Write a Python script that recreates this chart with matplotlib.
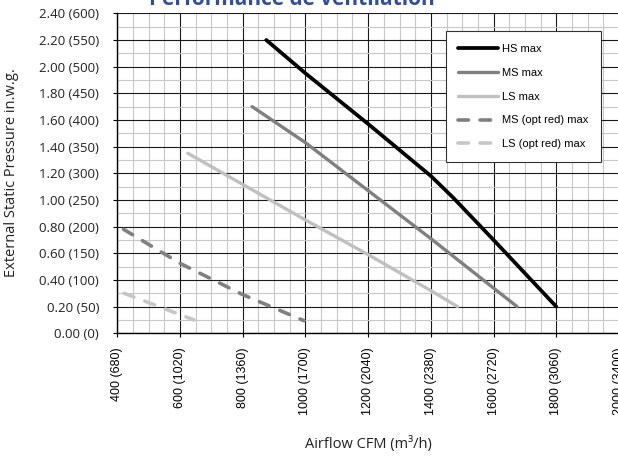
import matplotlib
matplotlib.use('Agg')
import matplotlib.pyplot as plt
from matplotlib.ticker import MultipleLocator
import numpy as np

# airflow in CFM, pressure in in.w.g.
hs_cfm = [875, 1000, 1200, 1400, 1470, 1600, 1800]
hs_p = [2.20, 1.95, 1.57, 1.18, 1.02, 0.70, 0.20]

ms_cfm = [830, 1000, 1200, 1400, 1675]
ms_p = [1.70, 1.43, 1.07, 0.71, 0.20]

ls_cfm = [625, 1000, 1200, 1400, 1485]
ls_p = [1.35, 0.85, 0.59, 0.32, 0.20]

ms_red_cfm = [420, 600, 800, 995]
ms_red_p = [0.78, 0.525, 0.29, 0.095]

ls_red_cfm = [422, 600, 645]
ls_red_p = [0.30, 0.14, 0.10]

x_ticks = [400, 600, 800, 1000, 1200, 1400, 1600, 1800, 2000]
x_labels = ['400 (680)', '600 (1020)', '800 (1360)', '1000 (1700)', '1200 (2040)',
            '1400 (2380)', '1600 (2720)', '1800 (3060)', '2000 (3400)']
y_ticks = [0.0, 0.2, 0.4, 0.6, 0.8, 1.0, 1.2, 1.4, 1.6, 1.8, 2.0, 2.2, 2.4]
y_labels = ['0.00 (0)', '0.20 (50)', '0.40 (100)', '0.60 (150)', '0.80 (200)',
            '1.00 (250)', '1.20 (300)', '1.40 (350)', '1.60 (400)', '1.80 (450)',
            '2.00 (500)', '2.20 (550)', '2.40 (600)']

W, H = 618, 458
fig = plt.figure(figsize=(W / 100, H / 100), dpi=100)
ax = fig.add_axes([117.3 / W, 1 - 333.3 / H, 501.7 / W, 320.0 / H])

ax.set_xlim(400, 2000)
ax.set_ylim(0, 2.4)

ax.xaxis.set_minor_locator(MultipleLocator(50))
ax.yaxis.set_minor_locator(MultipleLocator(0.1))
ax.grid(which='minor', color='#c8c8c8', lw=0.8, zorder=0)
ax.grid(which='major', color='#1a1a1a', lw=0.8, zorder=1)
ax.set_axisbelow(True)

dash = (0, (2.9, 3.2))
ax.plot(hs_cfm, hs_p, color='black', lw=2.7, solid_capstyle='round', label='HS max', zorder=5)
ax.plot(ms_cfm, ms_p, color='#808080', lw=2.4, solid_capstyle='round', label='MS max', zorder=4)
ax.plot(ls_cfm, ls_p, color='#c0c0c0', lw=2.4, solid_capstyle='round', label='LS max', zorder=4)
ax.plot(ms_red_cfm, ms_red_p, color='#808080', lw=2.6, ls=dash, dash_capstyle='round',
        label='MS (opt red) max', zorder=4)
ax.plot(ls_red_cfm, ls_red_p, color='#c6c6c6', lw=2.6, ls=dash, dash_capstyle='round',
        label='LS (opt red) max', zorder=4)

for s in ['top', 'right']:
    ax.spines[s].set_visible(False)
ax.spines['left'].set_color('black')
ax.spines['bottom'].set_color('black')
ax.spines['left'].set_linewidth(1.0)
ax.spines['bottom'].set_linewidth(1.0)

ax.set_xticks(x_ticks)
ax.set_xticklabels(x_labels, rotation=90, fontfamily='Liberation Sans', fontsize=9, va='top')
ax.set_yticks(y_ticks)
ax.set_yticklabels(y_labels, fontfamily='Open Sans', fontsize=9.5, color='#222222')
ax.tick_params(axis='x', which='major', length=3, width=0.8, pad=7)
ax.tick_params(axis='y', which='major', length=3, width=0.8, pad=10)
ax.tick_params(which='minor', length=0)

leg = ax.legend(loc='upper left', bbox_to_anchor=(0.6546, 0.9447), borderaxespad=0,
                prop={'family': 'Liberation Sans', 'size': 8}, frameon=True, fancybox=False,
                handlelength=3.6, handletextpad=0.3, labelspacing=1.25, borderpad=1.15)
leg.get_frame().set_edgecolor('#333333')
leg.get_frame().set_linewidth(0.8)
leg.get_frame().set_alpha(1)

fig.text(12 / W, 1 - 173 / H, 'External Static Pressure in.w.g.', rotation=90,
         ha='center', va='center', fontfamily='Open Sans', fontsize=10.5, color='#222222')
fig.text(368 / W, 1 - 444 / H, 'Airflow CFM (m³/h)', ha='center', va='center',
         fontfamily='Open Sans', fontsize=10.5, color='#222222')
fig.text(292 / W, 1 - 5 / H, 'Performance de ventilation', ha='center', va='baseline',
         fontfamily='Open Sans', fontweight='bold', fontsize=15, color='#2f4f9f')

fig.savefig('out.png', dpi=100)
plt.close()
